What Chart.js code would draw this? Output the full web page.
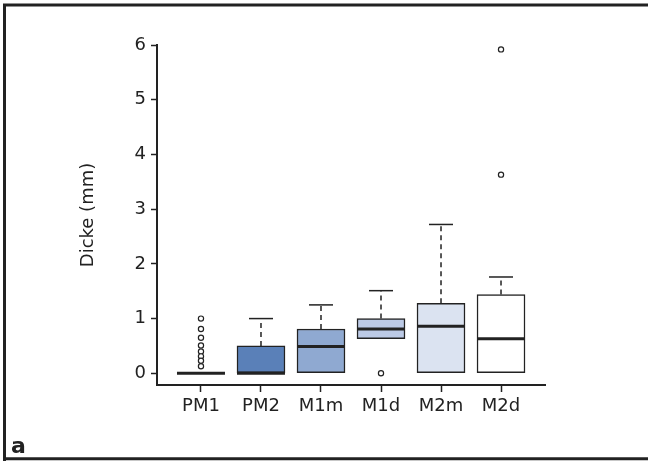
<!DOCTYPE html>
<html>
<head>
<meta charset="utf-8">
<script src="https://cdn.jsdelivr.net/npm/chart.js@4/dist/chart.umd.min.js"></script>
<style>
  html, body { margin: 0; padding: 0; background: #ffffff; overflow: hidden; }
  #wrap { width: 648px; height: 461px; position: relative; }
  canvas { display: block; }
</style>
</head>
<body>
<div id="wrap"><canvas id="c" width="648" height="461"></canvas></div>
<script>
// ---- data ----
const categories = ['PM1', 'PM2', 'M1m', 'M1d', 'M2m', 'M2d'];
const q1 = [0, 0, 0, 0.635, 0, 0];
const q3 = [0, 0.5, 0.81, 1.0, 1.28, 1.44];
const medians = [0, 0, 0.49, 0.81, 0.86, 0.63];
const whiskerLow = [0, 0, 0, 0.635, 0, 0];
const whiskerHigh = [0, 1.0, 1.25, 1.51, 2.72, 1.76];
const outliers = [
  [1.0, 0.81, 0.65, 0.51, 0.40, 0.31, 0.23, 0.13],
  [],
  [],
  [0.0],
  [],
  [5.92, 3.63]
];
const yTickValues = [0, 1, 2, 3, 4, 5, 6];
const boxColors = ['#3f66a3', '#5a80b8', '#8fa9d1', '#bccae6', '#dbe3f1', '#ffffff'];
const yTitle = 'Dicke (mm)';
const panelLabel = 'a';

// ---- derived structures for the library ----
const INK = '#222222';
const FONT = '"DejaVu Sans", "Liberation Sans", sans-serif';

const boxData = categories.map((c, i) => ({ x: i + 1, y: [q1[i], q3[i]] }));
const medianData = categories.map((c, i) => ({ x: i + 1, y: medians[i] }));
const whiskerData = [];
const capData = [];
categories.forEach((c, i) => {
  if (whiskerHigh[i] > q3[i]) {
    whiskerData.push({ x: i + 1, y: q3[i] }, { x: i + 1, y: whiskerHigh[i] }, { x: i + 1.5, y: null });
    capData.push({ x: i + 1, y: whiskerHigh[i] });
  }
  if (whiskerLow[i] < q1[i]) {
    whiskerData.push({ x: i + 1, y: q1[i] }, { x: i + 1, y: whiskerLow[i] }, { x: i + 1.5, y: null });
    capData.push({ x: i + 1, y: whiskerLow[i] });
  }
});
const outlierData = [];
outliers.forEach((arr, i) => arr.forEach(v => outlierData.push({ x: i + 1, y: v })));

const framePlugin = {
  id: 'frame',
  afterDraw(chart) {
    const ctx = chart.ctx;
    ctx.save();
    ctx.strokeStyle = INK;
    ctx.lineWidth = 3;
    ctx.beginPath();
    ctx.moveTo(4.5, 461);
    ctx.lineTo(4.5, 5);
    ctx.lineTo(648, 5);
    ctx.stroke();
    ctx.beginPath();
    ctx.moveTo(3, 458.7);
    ctx.lineTo(648, 458.7);
    ctx.stroke();
    ctx.fillStyle = INK;
    ctx.font = 'bold 22px ' + FONT;
    ctx.textBaseline = 'alphabetic';
    ctx.textAlign = 'left';
    ctx.fillText(panelLabel, 11, 453);
    ctx.restore();
  }
};

new Chart(document.getElementById('c'), {
  type: 'bar',
  data: {
    datasets: [
      {
        type: 'bar',
        data: boxData,
        backgroundColor: boxColors,
        borderColor: INK,
        borderWidth: 1.5,
        borderSkipped: false,
        barThickness: 48,
        grouped: false,
        order: 10
      },
      {
        type: 'line',
        data: whiskerData,
        borderColor: INK,
        borderWidth: 1.5,
        borderDash: [5, 4],
        pointRadius: 0,
        spanGaps: false,
        fill: false,
        order: 5
      },
      {
        type: 'line',
        data: capData,
        showLine: false,
        pointStyle: 'line',
        pointRadius: 12,
        pointBorderWidth: 1.5,
        pointBorderColor: INK,
        borderColor: INK,
        order: 4
      },
      {
        type: 'line',
        data: medianData,
        showLine: false,
        pointStyle: 'line',
        pointRadius: 24,
        pointBorderWidth: 3,
        pointBorderColor: INK,
        borderColor: INK,
        clip: false,
        order: 1
      },
      {
        type: 'line',
        data: outlierData,
        showLine: false,
        pointStyle: 'circle',
        pointRadius: 2.6,
        pointBorderWidth: 1.2,
        pointBorderColor: INK,
        pointBackgroundColor: '#ffffff',
        clip: false,
        order: 0
      }
    ]
  },
  options: {
    responsive: false,
    animation: false,
    events: [],
    layout: { padding: { left: 0, top: 45, right: 103, bottom: 0 } },
    plugins: { legend: { display: false }, tooltip: { enabled: false } },
    scales: {
      x: {
        type: 'linear',
        offset: false,
        min: 0.267,
        max: 6.733,
        afterBuildTicks(scale) { scale.ticks = categories.map((c, i) => ({ value: i + 1 })); },
        afterFit(scale) { scale.height = 76; },
        ticks: {
          autoSkip: false,
          maxRotation: 0,
          padding: 4,
          color: INK,
          font: { family: FONT, size: 18 },
          callback: (v) => categories[Math.round(v) - 1]
        },
        grid: { display: true, offset: false, drawOnChartArea: false, tickLength: 7, tickColor: INK, tickWidth: 1.5 },
        border: { display: true, color: INK, width: 2 }
      },
      y: {
        type: 'linear',
        min: -0.214,
        max: 6,
        afterBuildTicks(scale) { scale.ticks = yTickValues.map(v => ({ value: v })); },
        afterFit(scale) { scale.width = 157; },
        ticks: {
          padding: 5,
          color: INK,
          font: { family: FONT, size: 18 },
          callback: (v) => String(v)
        },
        grid: { display: true, drawOnChartArea: false, tickLength: 6, tickColor: INK, tickWidth: 1.5 },
        border: { display: true, color: INK, width: 2 },
        title: {
          display: true,
          text: yTitle,
          color: INK,
          font: { family: FONT, size: 18 },
          padding: { top: 78, bottom: 0 }
        }
      }
    }
  },
  plugins: [framePlugin]
});
</script>
</body>
</html>
